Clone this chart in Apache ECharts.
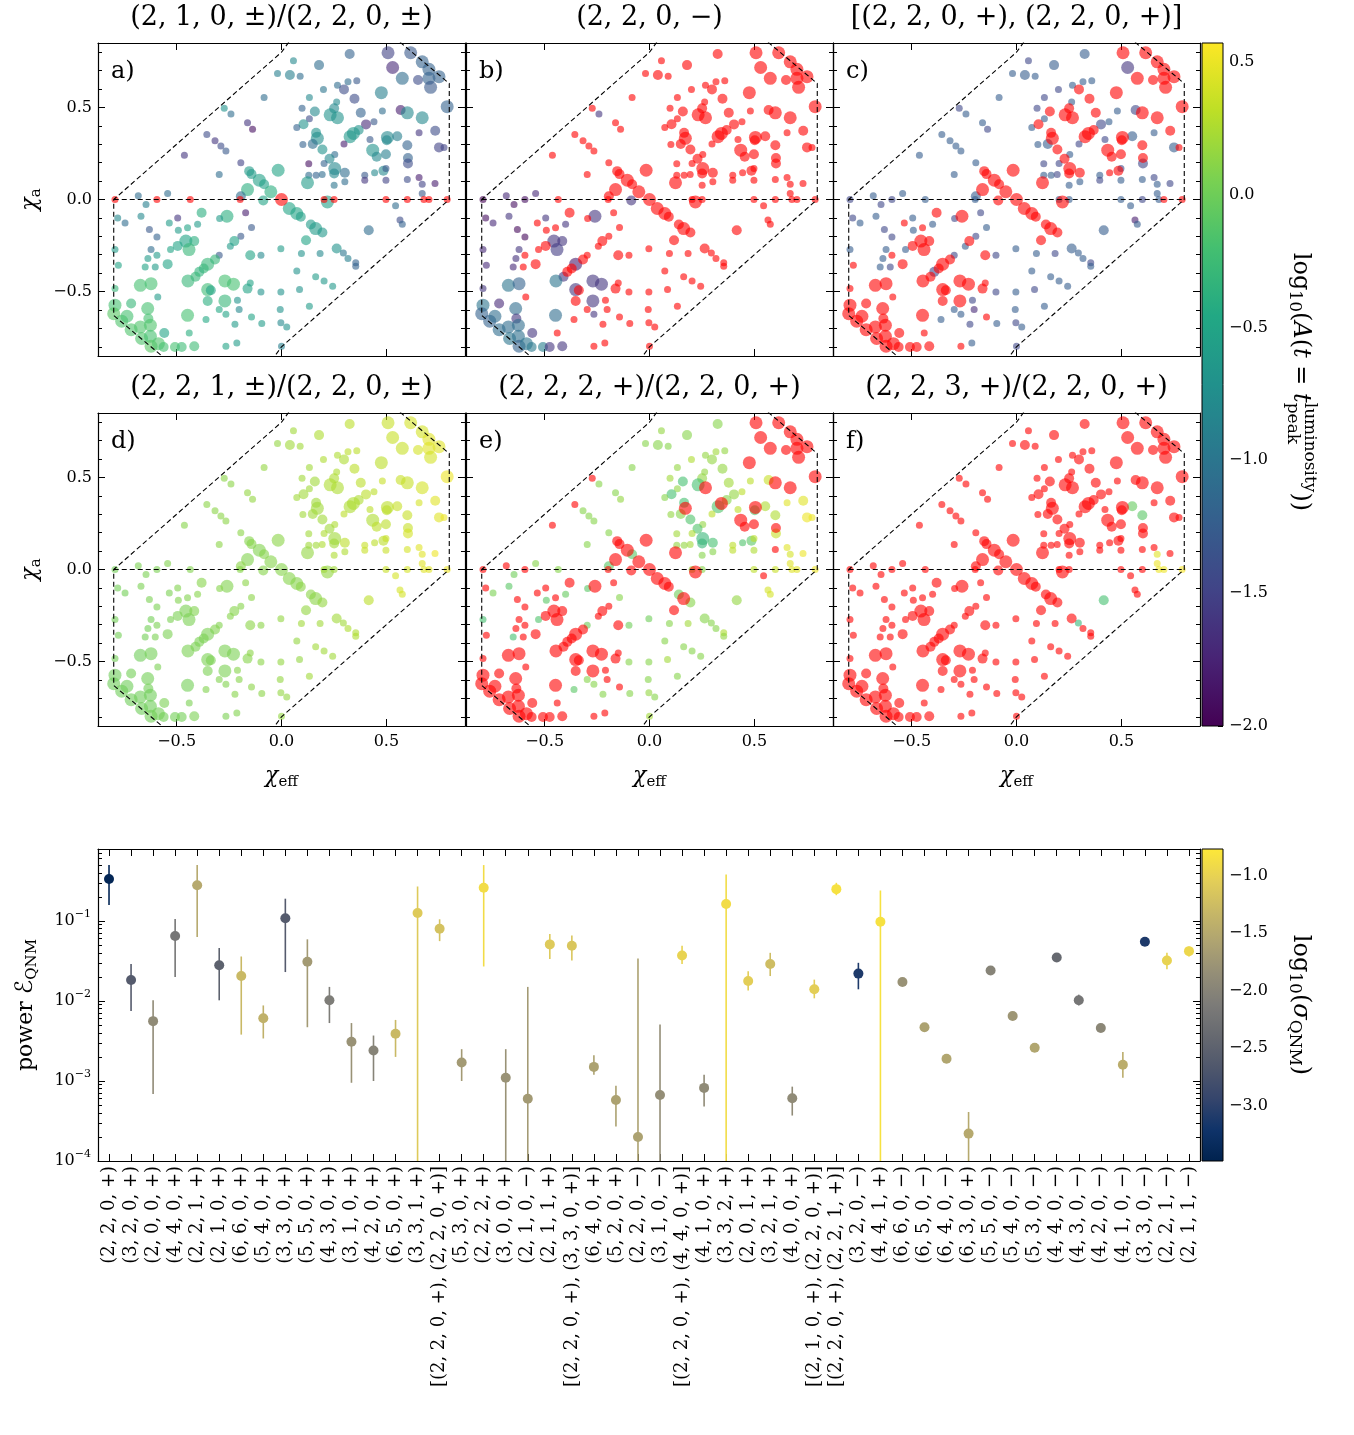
<!DOCTYPE html>
<html><head><meta charset="utf-8">
<script src="https://cdn.jsdelivr.net/npm/echarts@6/dist/echarts.min.js"></script>
<style>html,body{margin:0;padding:0;background:#fff}#c{width:1354px;height:1435px}</style>
</head><body><div id="c"></div>
<script>
const n = null;
// ---------- top panels: simulation points ----------
const CHI_EFF = [
0.325,0.508,0.057,0.179,-0.019,0.04,0.089,0.53,0.616,0.671,
0.703,0.751,0.576,0.651,0.703,0.711,0.79,0.267,0.317,0.359,
0.2,0.298,0.476,0.133,0.263,0.348,-0.083,0.098,0.251,0.159,
0.378,0.481,0.568,0.6,0.671,-0.273,-0.241,0.232,0.267,0.133,
0.105,0.073,0.441,0.403,0.368,0.343,0.327,0.298,0.165,0.171,
0.102,0.149,0.656,0.733,0.751,0.775,0.505,0.502,0.552,0.6,
0.422,0.435,0.454,0.498,0.603,0.195,0.254,0.229,0.13,0.203,
0.254,0.251,0.302,0.13,0.165,0.194,0.124,0.251,0.302,0.397,
0.397,0.444,0.486,0.498,0.498,0.603,0.6,0.656,0.671,0.732,
0.671,0.679,0.703,0.79,0.6,0.498,0.219,0.203,0.251,-0.194,
-0.154,-0.143,-0.106,-0.083,-0.051,-0.016,-0.162,-0.194,-0.087,0,
0.037,0.073,0.092,0.14,0.163,0.195,0.117,0.263,0.295,0.317,
0.354,0.354,0.416,0.544,0.565,0.576,-0.003,0.095,0.184,0.073,
0.163,0.203,0.244,0.086,-0.003,0.133,-0.006,-0.003,0.025,0,
-0.463,-0.356,-0.317,-0.289,-0.265,-0.297,-0.162,-0.138,-0.543,-0.683,
-0.594,-0.435,-0.197,-0.794,-0.646,-0.781,-0.746,-0.67,-0.63,-0.594,
-0.535,-0.495,-0.492,-0.448,-0.4,-0.381,-0.456,-0.416,-0.441,-0.495,
-0.529,-0.26,-0.295,-0.171,-0.143,-0.194,-0.225,-0.244,-0.297,-0.317,
-0.352,-0.371,-0.392,-0.41,-0.446,-0.149,-0.098,-0.622,-0.594,-0.637,
-0.65,-0.602,-0.543,-0.794,-0.778,-0.673,-0.622,-0.59,-0.794,-0.794,
-0.8,-0.762,-0.737,-0.717,-0.717,-0.673,-0.638,-0.635,-0.625,-0.667,
-0.625,-0.622,-0.587,-0.562,-0.559,-0.508,-0.476,-0.416,-0.448,-0.44,
-0.36,-0.352,-0.337,-0.352,-0.297,-0.27,-0.229,-0.27,-0.265,-0.21,
-0.202,-0.222,-0.162,-0.149,-0.098,-0.143,-0.094,-0.265,-0.213];
const CHI_A = [
0.79,0.797,0.754,0.73,0.685,0.676,0.67,0.717,0.797,0.748,
0.707,0.667,0.658,0.649,0.658,0.609,0.504,0.621,0.639,0.645,
0.598,0.598,0.58,0.554,0.529,0.547,0.554,0.496,0.495,0.478,
0.471,0.48,0.486,0.471,0.444,0.496,0.464,0.46,0.444,0.438,
0.409,0.391,0.422,0.408,0.377,0.359,0.341,0.301,0.362,0.332,
0.299,0.301,0.362,0.373,0.283,0.283,0.337,0.322,0.344,0.295,
0.326,0.268,0.232,0.246,0.225,0.272,0.245,0.221,0.194,0.196,
0.168,0.141,0.145,0.132,0.132,0.136,0.091,0.078,0.096,0.132,
0.105,0.145,0.156,0.168,0.105,0.196,0.109,0.12,0.083,0.087,
0.033,0,0,0,0,0,-0.013,0,0,0.199,
0.154,0.138,0.105,0.083,0.042,0.159,0.054,0.018,-0.005,0,
-0.049,-0.076,-0.094,-0.136,-0.158,-0.179,-0.221,-0.266,-0.29,-0.321,
-0.344,-0.362,-0.167,-0.034,-0.112,-0.134,-0.268,-0.293,-0.293,-0.389,
-0.42,-0.442,-0.471,-0.489,-0.502,-0.58,-0.598,-0.67,-0.692,-0.797,
0.241,0.353,0.319,0.29,0.264,0.136,0.417,0.382,0.033,0.02,
0,0,0,0,-0.027,-0.1,-0.127,-0.091,-0.163,-0.203,
-0.127,-0.1,-0.167,-0.154,-0.134,-0.072,-0.226,-0.226,-0.272,-0.252,
-0.272,-0.091,-0.103,-0.072,-0.152,-0.199,-0.226,-0.254,-0.303,-0.326,
-0.351,-0.375,-0.393,-0.42,-0.442,-0.303,-0.303,-0.272,-0.303,-0.321,
-0.366,-0.366,-0.351,-0.272,-0.357,-0.466,-0.457,-0.529,-0.484,-0.574,
-0.62,-0.661,-0.634,-0.565,-0.707,-0.692,-0.592,-0.647,-0.683,-0.755,
-0.743,-0.797,-0.783,-0.801,-0.725,-0.801,-0.801,-0.797,-0.629,-0.725,
-0.652,-0.489,-0.493,-0.551,-0.598,-0.442,-0.46,-0.551,-0.623,-0.547,
-0.598,-0.678,-0.484,-0.453,-0.502,-0.638,-0.674,-0.797,-0.779];
// marker class (1 small, 2 medium, 3 large)
const MARK = [
2,3,1,2,1,2,1,3,3,3, 3,3,3,2,3,3,3,1,1,1, 1,2,3,1,1,2,1,1,2,2, 2,1,2,3,3,1,1,3,3,1,
2,1,1,2,2,3,3,1,2,3, 1,2,1,2,2,1,3,2,2,2, 1,3,2,2,2,2,1,2,1,1, 3,2,2,1,1,1,3,1,1,1,
1,1,2,1,1,2,1,1,1,1, 1,1,1,1,1,1,3,1,1,1, 2,2,3,2,3,3,3,2,2,3, 3,3,2,2,3,2,2,2,1,1,
1,1,2,1,1,1,1,1,1,1, 1,1,1,1,1,1,1,1,1,1, 1,1,1,1,1,1,1,1,1,1, 1,1,1,1,1,1,1,1,1,1,
1,1,1,1,1,2,3,2,3,2, 1,3,1,1,1,1,2,1,1,2, 3,2,2,2,3,2,1,1,1,1, 1,1,2,1,1,3,3,1,1,3,
3,3,3,2,3,3,3,2,3,3, 3,3,3,2,2,2,2,2,3,1, 1,3,2,2,1,3,3,3,1,1, 1,1,2,1,1,1,1,1,1];
// log10 amplitude ratio per panel (null = drawn red)
const VAL_A = [
-1.2,-1.5,-0.8,-1.1,-0.9,-0.9,-1.1,-1.7,-1.3,-1.2,
-1.2,-1.2,-1.1,-1.4,-1.2,-1.3,-1.2,-1.1,-1.1,-1.3,
-1.0,-1.4,-0.9,-0.8,-0.8,-1.4,-1.1,-1.2,-0.8,-0.8,
-1.2,-1.1,-1.8,-0.8,-0.8,-0.7,-1.1,-0.7,-0.7,-1.4,
-0.7,-1.2,-1.3,-1.7,-0.7,-0.65,-0.65,-1.8,-0.7,-0.75,
-1.2,-1.1,-1.6,-1.4,-1.5,-1.5,-0.8,-0.8,-0.9,-1.2,
-1.3,-0.7,-0.8,-0.9,-1.2,-0.7,-1.1,-0.8,-1.9,-1.2,
-0.8,-0.8,-1.1,-1.1,-1.2,-1.1,-0.6,-1.0,-1.1,-1.3,
-1.6,-0.8,-0.8,-1.3,-1.5,-1.4,-1.4,-1.8,-1.5,-1.8,
-1.3,n,n,n,n,n,-0.55,n,n,-1.5,
-0.6,-0.6,-0.55,-0.55,-0.4,-0.5,-0.4,-1.1,-0.5,n,
-0.5,-0.5,-0.55,-0.6,-0.6,-0.65,-0.5,-0.7,-1.0,-0.9,
-1.2,-1.2,-1.1,-1.1,-1.4,-1.2,-0.6,-0.7,-0.8,-0.7,
-0.6,-0.65,-0.65,-0.7,-0.7,-0.6,-0.7,-0.8,-0.7,-0.9,
-1.6,-1.4,-1.6,-1.4,-1.3,-1.1,-1.6,-1.9,-1.1,-1.1,
n,n,n,n,-0.9,-0.8,-1.1,-0.8,-1.3,-1.2,
-0.6,-1.6,-0.6,-0.5,-0.6,-0.4,-0.5,-0.4,-0.3,-0.5,
-0.5,-0.4,-0.6,-1.8,-1.3,-1.3,-0.5,-0.6,-1.3,-0.3,
-0.3,-0.3,-0.35,-0.3,-0.3,-0.5,-0.8,-1.1,-0.6,-0.6,
-0.5,-0.6,-0.5,-0.6,-0.5,-0.2,-0.2,-0.6,-0.3,-0.2,
-0.1,-0.15,-0.2,-0.3,-0.15,-0.15,-0.2,-0.2,-0.15,-0.15,
-0.2,-0.1,-0.15,-0.2,-0.5,-0.2,-0.25,-0.25,-0.2,-0.4,
-0.45,-0.25,-0.5,-0.4,-0.45,-0.2,-0.2,-0.3,-0.5,-0.7,
-0.8,-0.6,-0.5,-0.5,-0.7,-0.5,-0.6,-0.5,-0.6];
const VAL_B = [
n,n,n,n,n,n,n,n,n,n, n,n,n,n,n,n,n,n,n,n, n,n,n,n,n,n,n,n,n,n,
n,n,n,n,n,n,-1.6,n,n,n,
n,n,n,n,n,n,n,n,n,n, n,n,n,n,n,n,n,n,n,n, n,n,n,n,n,n,n,n,n,n,
n,n,n,n,n,n,n,n,n,n, n,n,n,n,n,n,n,n,n,n, n,n,n,n,n,n,n,n,n,n,
n,n,n,n,n,n,n,n,-1.6,n,
n,n,n,n,n,n,n,n,n,n, n,n,n,n,n,n,n,n,n,n, n,n,n,n,n,n,n,n,n,n,
n,n,n,n,n,n,n,n,-1.7,-1.7,
-1.9,n,n,-2.0,-1.9,-1.9,-1.7,-1.6,-1.95,-1.95,
n,-1.6,n,n,-1.6,n,-1.6,-1.6,-1.55,n,
n,-1.6,n,n,n,n,n,n,n,n,
-1.8,n,n,-1.6,-1.0,n,n,-1.6,n,-1.65,
-1.7,n,n,-1.7,-1.7,-1.0,-1.2,n,-1.6,-1.0,
-1.2,-1.2,-1.1,-1.7,-1.1,-1.1,-1.1,-1.6,-1.1,-1.0,
-1.05,-1.2,-1.0,-0.95,-1.6,-0.9,-1.6,-1.6,-1.1,n,
n,-1.6,n,n,n,-1.6,-1.6,-1.6,-1.6,n,
n,n,n,n,n,n,n,n,n];
const VAL_C = [
-1.25,n,-1.45,-1.25,-1.25,-1.25,-1.25,-1.6,n,n,
n,n,n,n,n,n,n,-1.25,-1.25,-1.25,
-1.45,n,n,-1.45,-1.25,n,-1.25,-1.45,n,n,
n,-1.25,-1.45,n,n,-1.45,-1.25,n,n,-1.25,
n,-1.25,-1.25,-1.45,n,n,n,-1.45,n,n,
-1.25,-1.25,-1.25,n,-1.25,n,n,n,-1.25,n,
-1.45,n,n,n,n,n,-1.25,n,-1.45,-1.45,
n,n,n,-1.25,-1.25,-1.45,n,-1.25,-1.25,-1.25,
-1.45,n,n,-1.45,-1.25,-1.45,-1.25,-1.45,-1.25,-1.45,
-1.25,-1.25,n,n,-1.45,-1.25,n,-1.25,-1.25,-1.25,
n,n,n,n,n,n,n,-1.25,n,n,
n,n,n,n,n,n,n,-1.25,-1.25,-1.25,
-1.45,-1.25,-1.25,-1.25,-1.8,-1.25,-1.25,-1.25,-1.45,-1.25,
-1.25,-1.25,-1.25,-1.45,-1.25,-1.25,-1.25,-1.45,-1.25,-1.45,
-1.25,-1.25,-1.25,-1.25,-1.25,-1.25,-1.25,-1.45,-1.25,-1.25,
-1.45,-1.25,-1.25,-1.45,-1.45,-1.45,-1.25,-1.25,-1.45,-1.45,
n,-1.25,-1.25,n,-1.25,n,n,n,n,n,
-1.25,n,-1.45,-1.45,-1.25,-1.45,n,-1.25,-1.45,n,
n,n,-1.45,n,n,n,-1.45,-1.25,n,-1.25,
-1.25,-1.45,n,-1.25,n,n,n,n,n,n,
n,n,n,n,n,n,n,n,n,n,
n,n,n,n,n,n,n,n,n,n,
-1.25,n,n,n,-1.25,n,n,n,-1.25,-1.45,
-1.7,-1.45,n,n,-1.45,n,-1.25,n,-1.25];
const VAL_D = [
0.3,0.35,0.2,0.25,0.15,0.2,0.2,0.35,0.4,0.4,
0.45,0.45,0.35,0.4,0.45,0.4,0.5,0.25,0.3,0.3,
0.25,0.25,0.3,0.2,0.25,0.3,0.15,0.2,0.25,0.2,
0.3,0.35,0.35,0.35,0.4,0.12,0.12,0.25,0.25,0.2,
0.2,0.2,0.3,0.3,0.25,0.25,0.25,0.3,0.2,0.2,
0.2,0.2,0.4,0.45,0.45,0.5,0.3,0.3,0.35,0.35,
0.3,0.25,0.3,0.3,0.35,0.2,0.25,0.2,0.2,0.25,
0.2,0.2,0.3,0.2,0.2,0.25,0.15,0.25,0.25,0.35,
0.35,0.3,0.3,0.35,0.35,0.4,0.4,0.45,0.45,0.5,
0.45,0.45,0.45,0.5,0.4,0.35,0.15,0.2,0.2,0.12,
0.1,0.1,0.08,0.1,0.1,0.12,0.08,0.12,0.1,0.1,
0.1,0.1,0.12,0.12,0.12,0.15,0.15,0.2,0.2,0.25,
0.25,0.25,0.3,0.4,0.4,0.4,0.15,0.2,0.2,0.15,
0.2,0.2,0.2,0.15,0.15,0.2,0.15,0.15,0.15,0.15,
0.1,0.12,0.12,0.12,0.12,0.12,0.15,0.15,0.08,0.05,
0.05,0.08,0.1,0.02,0.05,0.02,0.02,0.05,0.05,0.05,
0.05,0.08,0.08,0.08,0.1,0.1,0.05,0.08,0.05,0.05,
0.05,0.08,0.1,0.12,0.12,0.1,0.1,0.1,0.08,0.08,
0.05,0.05,0.05,0.05,0.05,0.12,0.12,0.02,0.05,0.02,
0.02,0.05,0.05,0.02,0.02,0.0,0.02,0.05,0.02,0.0,
0.0,0.0,0.0,0.02,0.0,0.0,0.02,0.02,0.0,0.0,
0.0,0.02,0.02,0.02,0.05,0.02,0.02,0.05,0.02,0.05,
0.08,0.05,0.05,0.05,0.08,0.05,0.05,0.05,0.08,0.1,
0.1,0.1,0.1,0.12,0.12,0.12,0.12,0.05,0.08];
const VAL_E = [
0.1,n,0.15,0.1,0.1,0.1,0.1,n,n,n,
n,n,n,n,n,n,n,0.15,0.2,0.15,
0.25,0.15,n,0.15,0.15,0.15,0.1,0.2,0.15,-0.2,
0.2,0.3,0.35,n,n,n,0.1,-0.2,n,0.15,
-0.2,0.1,0.3,0.15,0.1,n,-0.15,0.3,-0.2,n,
0.15,0.1,0.45,0.45,0.5,0.5,n,-0.15,0.25,0.25,
0.3,n,n,n,n,-0.15,0.15,-0.15,0.2,0.25,
-0.3,-0.3,-0.2,0.15,0.15,0.2,n,0.1,0.1,0.3,
0.3,-0.15,-0.1,0.3,0.25,0.35,n,0.45,0.4,0.5,
0.45,0.45,0.45,0.5,0.35,0.3,n,0.15,0.1,0.1,
n,n,n,-0.1,n,n,n,-0.1,n,n,
n,n,n,0.0,n,0.1,n,0.1,0.1,0.1,
0.25,0.15,0.15,n,0.4,0.4,0.0,0.1,0.2,0.1,
0.1,0.1,0.1,0.2,0.1,0.1,0.1,0.15,0.1,0.2,
n,n,0.1,0.1,0.1,0.1,0.1,0.15,0.1,n,
n,0.1,n,n,0.0,n,0.05,-0.1,n,n,
n,n,-0.1,n,-0.05,n,n,n,n,n,
-0.15,n,-0.1,n,0.1,n,n,n,0.0,n,
n,n,n,n,n,n,0.0,n,n,n,
-0.2,n,n,-0.2,n,n,n,n,n,n,
n,n,n,n,n,n,n,n,n,n,
n,n,n,n,n,n,n,n,n,n,
-0.1,n,n,n,0.1,n,n,n,0.1,n,
n,0.1,n,n,0.1,n,0.1,n,n];
const VAL_F = [
n,n,n,n,n,n,n,n,n,n, n,n,n,n,n,n,n,n,n,n, n,n,n,n,n,n,n,n,n,n,
n,n,n,n,n,n,n,n,n,n, n,n,n,n,n,n,n,n,n,n,
n,n,n,n,n,n,n,n,-0.05,-0.1,
n,n,n,n,n,n,n,n,n,n, n,n,n,n,n,n,n,n,n,n,
n,n,n,n,n,n,n,n,0.45,n,
0.5,0.5,0.5,0.55,n,n,n,n,n,n,
n,n,n,n,n,n,n,n,n,n,
n,n,n,n,n,n,n,n,-0.3,n,
n,n,-0.2,n,n,n,n,n,n,n,
n,n,n,n,n,n,n,n,n,n, n,n,n,n,n,n,n,n,n,n, n,n,n,n,n,n,n,n,n,n,
n,n,n,n,n,n,n,n,n,n, n,n,n,n,n,n,n,n,n,n, n,n,n,n,n,n,n,n,n,n,
n,n,n,n,n,n,n,n,n,n, n,n,n,n,n,n,n,n,n,n, n,n,n,n,n,n,n,n,n,n,
n,n,n,n,n,n,n,n,n,n,
n,n,n,n,n,n,n,n,n];
const PANEL_TITLES = ['(2, 1, 0, \u00b1)/(2, 2, 0, \u00b1)','(2, 2, 0, \u2212)','[(2, 2, 0, +), (2, 2, 0, +)]',
  '(2, 2, 1, \u00b1)/(2, 2, 0, \u00b1)','(2, 2, 2, +)/(2, 2, 0, +)','(2, 2, 3, +)/(2, 2, 0, +)'];
const PANEL_LETTERS = ['a)','b)','c)','d)','e)','f)'];
const PANEL_VALUES = [VAL_A, VAL_B, VAL_C, VAL_D, VAL_E, VAL_F];
// boundary of allowed region (dashed)
const BOUND_1 = [[0.035,0.855],[0,0.8],[-0.8,0],[-0.8,-0.63],[-0.565,-0.855]];
const BOUND_2 = [[0.565,0.855],[0.8,0.63],[0.8,0],[0,-0.8],[-0.035,-0.855]];
const BOUND_3 = [[-0.8,0],[0.8,0]];
const X_TICKS = [-0.5, 0, 0.5];
const Y_TICKS = [-0.5, 0, 0.5];
const Y_MINOR = [-0.8,-0.7,-0.6,-0.4,-0.3,-0.2,-0.1,0.1,0.2,0.3,0.4,0.6,0.7,0.8];
const CB1_RANGE = [-2.0, 0.57];
const CB1_TICKS = [-2.0,-1.5,-1.0,-0.5,0.0,0.5];

// ---------- bottom panel ----------
const MODES = ['(2, 2, 0, +)','(3, 2, 0, +)','(2, 0, 0, +)','(4, 4, 0, +)','(2, 2, 1, +)','(2, 1, 0, +)','(6, 6, 0, +)','(5, 4, 0, +)',
'(3, 3, 0, +)','(5, 5, 0, +)','(4, 3, 0, +)','(3, 1, 0, +)','(4, 2, 0, +)','(6, 5, 0, +)','(3, 3, 1, +)','[(2, 2, 0, +), (2, 2, 0, +)]',
'(5, 3, 0, +)','(2, 2, 2, +)','(3, 0, 0, +)','(2, 1, 0, \u2212)','(2, 1, 1, +)','[(2, 2, 0, +), (3, 3, 0, +)]','(6, 4, 0, +)','(5, 2, 0, +)',
'(2, 2, 0, \u2212)','(3, 1, 0, \u2212)','[(2, 2, 0, +), (4, 4, 0, +)]','(4, 1, 0, +)','(3, 3, 2, +)','(2, 0, 1, +)','(3, 2, 1, +)','(4, 0, 0, +)',
'[(2, 1, 0, +), (2, 2, 0, +)]','[(2, 2, 0, +), (2, 2, 1, +)]','(3, 2, 0, \u2212)','(4, 4, 1, +)','(6, 6, 0, \u2212)','(6, 5, 0, \u2212)','(6, 4, 0, \u2212)','(6, 3, 0, +)',
'(5, 5, 0, \u2212)','(5, 4, 0, \u2212)','(5, 3, 0, \u2212)','(4, 4, 0, \u2212)','(4, 3, 0, \u2212)','(4, 2, 0, \u2212)','(4, 1, 0, \u2212)','(3, 3, 0, \u2212)',
'(2, 2, 1, \u2212)','(2, 1, 1, \u2212)'];
const POWER = [0.335,0.0183,0.0056,0.065,0.28,0.028,0.0205,0.0061,0.108,0.031,
0.0102,0.0031,0.0024,0.0039,0.126,0.08,0.0017,0.26,0.0011,0.0006,
0.051,0.049,0.0015,0.00058,0.0002,0.00067,0.037,0.00082,0.163,0.0178,
0.029,0.00061,0.014,0.25,0.022,0.098,0.0173,0.0047,0.0019,0.00022,
0.024,0.0065,0.0026,0.035,0.0102,0.0046,0.0016,0.055,0.032,0.042];
const POWER_LO = [0.158,0.0075,0.00069,0.02,0.063,0.0102,0.0038,0.0034,0.023,0.0047,
0.0053,0.00095,0.001,0.002,null,0.056,0.001,0.027,null,null,
0.0335,0.032,0.0012,0.00027,null,null,0.029,0.00048,null,0.0135,
0.0205,0.00037,0.0108,0.21,0.014,null,0.0165,0.0045,0.0018,null,
0.023,0.0062,0.0023,0.033,0.0088,0.0043,0.0011,0.05,0.025,0.036];
const POWER_HI = [0.5,0.029,0.0102,0.106,0.5,0.046,0.036,0.0088,0.19,0.059,
0.015,0.0053,0.0037,0.0058,0.27,0.105,0.0025,0.5,0.0025,0.015,
0.069,0.066,0.0021,0.00087,0.034,0.0051,0.049,0.0012,0.38,0.0235,
0.04,0.00085,0.0185,0.3,0.03,0.24,0.0182,0.0049,0.002,0.00041,
0.025,0.0068,0.0029,0.037,0.012,0.0049,0.0023,0.06,0.04,0.048];
const LOG_SIGMA = [-3.4,-2.6,-1.9,-2.2,-1.5,-2.5,-1.3,-1.4,-2.6,-1.7,
-2.1,-1.8,-2.0,-1.3,-1.1,-1.2,-1.7,-0.9,-1.8,-1.7,
-1.1,-1.15,-1.6,-1.6,-1.6,-1.85,-1.0,-1.9,-0.9,-1.05,
-1.25,-1.9,-1.05,-0.85,-3.1,-0.85,-1.8,-1.6,-1.55,-1.5,
-2.0,-1.75,-1.55,-2.4,-2.2,-1.95,-1.45,-3.1,-1.0,-0.95];
const Y_MIN_B = 1e-4, Y_MAX_B = 0.794;
const DECADES = [1e-4, 1e-3, 1e-2, 1e-1];
const CB2_RANGE = [-3.48, -0.77];
const CB2_TICKS = [-3.0,-2.5,-2.0,-1.5,-1.0];

// ---------- styling ----------
const FONT = "'DejaVu Serif', 'Liberation Serif', serif";
const VIRIDIS = ['#440154','#482475','#414487','#355f8d','#2a788e','#21918c','#22a884','#44bf70','#7ad151','#bddf26','#fde725'];
const CIVIDIS = ['#00224e','#0f3369','#35456c','#4f576c','#666970','#7c7b78','#948e77','#aea371','#c8b866','#e4cf57','#fee838'];
const SZ = {1: 7, 2: 10, 3: 13};
const GL = [98, 466, 833], GT = [43, 413], GW = 367, GH = 313;
const LINE = {show: true, onZero: false, lineStyle: {color: '#000', width: 1.2}};
const NOLINE = {show: false, onZero: false};
function fmt1(v) { return (v < -1e-9 ? '\u2212' : '') + Math.abs(v).toFixed(1); }
function fmtExp(v) { const e = Math.round(Math.log10(v)); return '{b|10}{s|' + (e < 0 ? '\u2212' : '') + Math.abs(e) + '}'; }
function minorsBetween(lo, hi, step, majors) {
  const out = []; const k0 = Math.ceil(lo / step - 1e-6), k1 = Math.floor(hi / step + 1e-6);
  for (let k = k0; k <= k1; k++) { const v = +(k * step).toFixed(6); if (!majors.some(m => Math.abs(m - v) < 1e-6)) out.push(v); }
  return out;
}
const LOG_MINOR = [];
for (let e = -4; e <= -1; e++) for (let m = 2; m <= 9; m++) { const v = m * Math.pow(10, e); if (v < Y_MAX_B) LOG_MINOR.push(v); }
const CHI_RICH = {
  c: {fontFamily: FONT, fontSize: 22, fontStyle: 'italic', lineHeight: 28, color: '#000'},
  s: {fontFamily: FONT, fontSize: 15, lineHeight: 15, verticalAlign: 'bottom', color: '#000'},
  n: {fontFamily: FONT, fontSize: 22, lineHeight: 28, color: '#000'},
  e: {fontFamily: "'DejaVu Sans', 'Noto Sans', sans-serif", fontSize: 24, lineHeight: 28, color: '#000'}
};
const SUP_RICH = {
  b: {fontFamily: FONT, fontSize: 16, lineHeight: 24, color: '#000'},
  s: {fontFamily: FONT, fontSize: 11, lineHeight: 11, verticalAlign: 'top', color: '#000'}
};
function tickAxis(base, ticks, len, showLine) {
  return Object.assign({
    type: 'value', axisLine: showLine ? LINE : NOLINE, splitLine: {show: false},
    axisTick: {show: true, inside: true, length: len, customValues: ticks, lineStyle: {color: '#000', width: 1}},
    axisLabel: {show: false}
  }, base);
}

const grid = [], xAxis = [], yAxis = [], series = [], colored = [];
function push(arr, o) { arr.push(o); return arr.length - 1; }

PANEL_VALUES.forEach((vals, p) => {
  const c = p % 3, r = (p / 3) | 0;
  const g = push(grid, {left: GL[c], top: GT[r], width: GW, height: GH});
  const xr = {gridIndex: g, min: -0.875, max: 0.875};
  const yr = {gridIndex: g, min: -0.85, max: 0.85};
  const xb = push(xAxis, tickAxis(Object.assign({position: 'bottom',
    name: r === 1 ? '{c|\u03c7}{s|eff}' : '', nameLocation: 'middle', nameGap: 36,
    nameTextStyle: {rich: CHI_RICH}}, xr), X_TICKS, 7, true));
  if (r === 1) xAxis[xb].axisLabel = {show: true, customValues: X_TICKS, formatter: fmt1, color: '#000', fontFamily: FONT, fontSize: 16, margin: 8};
  push(xAxis, tickAxis(Object.assign({position: 'top'}, xr), X_TICKS, 7, true));
  const yl = push(yAxis, tickAxis(Object.assign({position: 'left',
    name: c === 0 ? '{c|\u03c7}{s|a}' : '', nameLocation: 'middle', nameGap: 54, nameRotate: 90,
    nameTextStyle: {rich: CHI_RICH}}, yr), Y_TICKS, 7, true));
  if (c === 0) yAxis[yl].axisLabel = {show: true, customValues: Y_TICKS, formatter: fmt1, color: '#000', fontFamily: FONT, fontSize: 16, margin: 6};
  push(yAxis, tickAxis(Object.assign({position: 'left'}, yr), Y_MINOR, 4, false));
  push(yAxis, tickAxis(Object.assign({position: 'right'}, yr), Y_TICKS, 7, true));
  push(yAxis, tickAxis(Object.assign({position: 'right'}, yr), Y_MINOR, 4, false));

  const colD = [], redD = [];
  for (let i = 0; i < CHI_EFF.length; i++) {
    if (vals[i] === null) redD.push([CHI_EFF[i], CHI_A[i], MARK[i]]);
    else colD.push([CHI_EFF[i], CHI_A[i], vals[i], MARK[i]]);
  }
  colored.push(push(series, {type: 'scatter', xAxisIndex: xb, yAxisIndex: yl, data: colD,
    symbolSize: d => SZ[d[3]], itemStyle: {opacity: 0.6}, z: 2, silent: true}));
  push(series, {type: 'scatter', xAxisIndex: xb, yAxisIndex: yl, data: redD,
    symbolSize: d => SZ[d[2]], itemStyle: {color: '#ff0000', opacity: 0.6}, z: 2, silent: true});
  [BOUND_1, BOUND_2, BOUND_3].forEach(L => push(series, {type: 'line', xAxisIndex: xb, yAxisIndex: yl, data: L,
    symbol: 'none', lineStyle: {color: '#000', width: 1.1, type: [5, 3]}, z: 3, silent: true, clip: true, animation: false}));
});

function cbRender(stops) {
  return function (params, api) {
    const p0 = api.coord([api.value(0), api.value(1)]);
    const p1 = api.coord([api.value(2), api.value(3)]);
    return {type: 'rect', shape: {x: p0[0], y: p1[1], width: p1[0] - p0[0], height: p0[1] - p1[1]},
      style: {fill: new echarts.graphic.LinearGradient(0, 1, 0, 0, stops.map((col, i) => ({offset: i / (stops.length - 1), color: col}))),
        stroke: '#000', lineWidth: 1}};
  };
}
function colorbar(top, height, range, ticks, stops) {
  const g = push(grid, {left: 1202, top: top, width: 21, height: height});
  const xa = push(xAxis, {gridIndex: g, type: 'value', min: 0, max: 1, show: false});
  const ya = push(yAxis, tickAxis({gridIndex: g, position: 'right', min: range[0], max: range[1]}, ticks, 5, false));
  yAxis[ya].axisLabel = {show: true, customValues: ticks, formatter: fmt1, color: '#000', fontFamily: FONT, fontSize: 16, margin: 6};
  push(yAxis, tickAxis({gridIndex: g, position: 'right', min: range[0], max: range[1]}, minorsBetween(range[0], range[1], 0.1, ticks), 3, false));
  push(series, {type: 'custom', xAxisIndex: xa, yAxisIndex: ya, data: [[0, range[0], 1, range[1]]],
    encode: {x: [0, 2], y: [1, 3]}, renderItem: cbRender(stops), silent: true, z: 1});
}
colorbar(43, 683, CB1_RANGE, CB1_TICKS, VIRIDIS);

// bottom panel
const gb = push(grid, {left: 98, top: 849, width: 1102, height: 312});
const catTick = {show: true, inside: true, alignWithLabel: true, interval: 0, length: 7, lineStyle: {color: '#000', width: 1}};
const xbB = push(xAxis, {gridIndex: gb, type: 'category', data: MODES, position: 'bottom', boundaryGap: true,
  axisLine: LINE, axisTick: catTick, splitLine: {show: false},
  axisLabel: {interval: 0, rotate: 90, fontFamily: FONT, fontSize: 18, color: '#000', margin: 5}});
push(xAxis, {gridIndex: gb, type: 'category', data: MODES, position: 'top', boundaryGap: true,
  axisLine: LINE, axisTick: catTick, axisLabel: {show: false}, splitLine: {show: false}});
const logBase = {gridIndex: gb, type: 'log', logBase: 10, min: Y_MIN_B, max: Y_MAX_B};
const ybB = push(yAxis, tickAxis(Object.assign({position: 'left', name: '{n|power }{e|\u2130}{s|QNM}',
  nameLocation: 'middle', nameGap: 58, nameRotate: 90, nameTextStyle: {rich: CHI_RICH}}, logBase), DECADES, 7, true));
Object.assign(yAxis[ybB], {type: 'log'});
yAxis[ybB].axisLabel = {show: true, customValues: DECADES, formatter: fmtExp, rich: SUP_RICH, margin: 7};
push(yAxis, Object.assign(tickAxis(Object.assign({position: 'left'}, logBase), LOG_MINOR, 4, false), {type: 'log'}));
push(yAxis, Object.assign(tickAxis(Object.assign({position: 'right'}, logBase), DECADES, 7, true), {type: 'log'}));
push(yAxis, Object.assign(tickAxis(Object.assign({position: 'right'}, logBase), LOG_MINOR, 4, false), {type: 'log'}));

const modeData = MODES.map((m, i) => [i, POWER[i], POWER_LO[i] === null ? Y_MIN_B : POWER_LO[i], POWER_HI[i], LOG_SIGMA[i]]);
const errIdx = push(series, {type: 'custom', xAxisIndex: xbB, yAxisIndex: ybB, data: modeData,
  encode: {x: 0, y: [1, 2, 3]}, silent: true, z: 2,
  renderItem: function (params, api) {
    const a = api.coord([api.value(0), api.value(3)]);
    const b = api.coord([api.value(0), api.value(2)]);
    return {type: 'line', shape: {x1: a[0], y1: a[1], x2: b[0], y2: b[1]}, style: {stroke: api.visual('color'), lineWidth: 1.6}};
  }});
const ptIdx = push(series, {type: 'scatter', xAxisIndex: xbB, yAxisIndex: ybB, data: modeData,
  encode: {x: 0, y: 1}, symbolSize: 10, itemStyle: {opacity: 1}, z: 3, silent: true});
colorbar(849, 312, CB2_RANGE, CB2_TICKS, CIVIDIS);

// ---------- texts ----------
const mctx = document.createElement('canvas').getContext('2d');
function textW(t, size, st) { mctx.font = (st || 'normal') + ' ' + size + 'px ' + FONT; return mctx.measureText(t).width; }
function piece(p, x) {
  return {type: 'text', x: x, y: p.dy || 0, style: {text: p.t, font: (p.st || 'normal') + ' ' + p.s + 'px ' + FONT,
    fill: '#000', align: 'left', verticalAlign: 'middle'}};
}
function vTitle(cx, cy, pieces) {
  let x = 0; const kids = [];
  pieces.forEach(p => {
    if (p.stack) { let w = 0; p.stack.forEach(q => { kids.push(piece(q, x)); w = Math.max(w, textW(q.t, q.s, q.st)); }); x += w; }
    else { kids.push(piece(p, x)); x += textW(p.t, p.s, p.st); }
  });
  return {type: 'group', x: cx, y: cy - x / 2, rotation: -Math.PI / 2, children: kids};
}
const graphic = [];
PANEL_TITLES.forEach((t, p) => {
  const c = p % 3, r = (p / 3) | 0;
  graphic.push({type: 'text', x: GL[c] + GW / 2, y: GT[r] - 25, style: {text: t, font: '27px ' + FONT, fill: '#000', align: 'center', verticalAlign: 'middle'}});
  graphic.push({type: 'text', x: GL[c] + 13, y: GT[r] + 29, style: {text: PANEL_LETTERS[p], font: '24px ' + FONT, fill: '#000', align: 'left', verticalAlign: 'middle'}});
});
graphic.push(vTitle(1300, 382, [
  {t: 'log', s: 24}, {t: '10', s: 17, dy: 6}, {t: '(', s: 24}, {t: 'A', s: 24, st: 'italic'}, {t: '(', s: 24},
  {t: 't', s: 24, st: 'italic'}, {t: ' = ', s: 24}, {t: 't', s: 24, st: 'italic'},
  {stack: [{t: 'luminosity', s: 17, dy: -9}, {t: 'peak', s: 17, dy: 8}]}, {t: '))', s: 24}]));
graphic.push(vTitle(1300, 1005, [
  {t: 'log', s: 24}, {t: '10', s: 17, dy: 6}, {t: '(', s: 24}, {t: '\u03c3', s: 24, st: 'italic'},
  {t: 'QNM', s: 17, dy: 6}, {t: ')', s: 24}]));

const chart = echarts.init(document.getElementById('c'), null, {renderer: 'canvas'});
chart.setOption({
  animation: false,
  backgroundColor: '#fff',
  textStyle: {fontFamily: FONT, color: '#000'},
  grid: grid, xAxis: xAxis, yAxis: yAxis, series: series, graphic: graphic,
  visualMap: [
    {type: 'continuous', show: false, min: CB1_RANGE[0], max: CB1_RANGE[1], dimension: 2, seriesIndex: colored, inRange: {color: VIRIDIS}},
    {type: 'continuous', show: false, min: CB2_RANGE[0], max: CB2_RANGE[1], dimension: 4, seriesIndex: [errIdx, ptIdx], inRange: {color: CIVIDIS}}
  ]
});
</script></body></html>
